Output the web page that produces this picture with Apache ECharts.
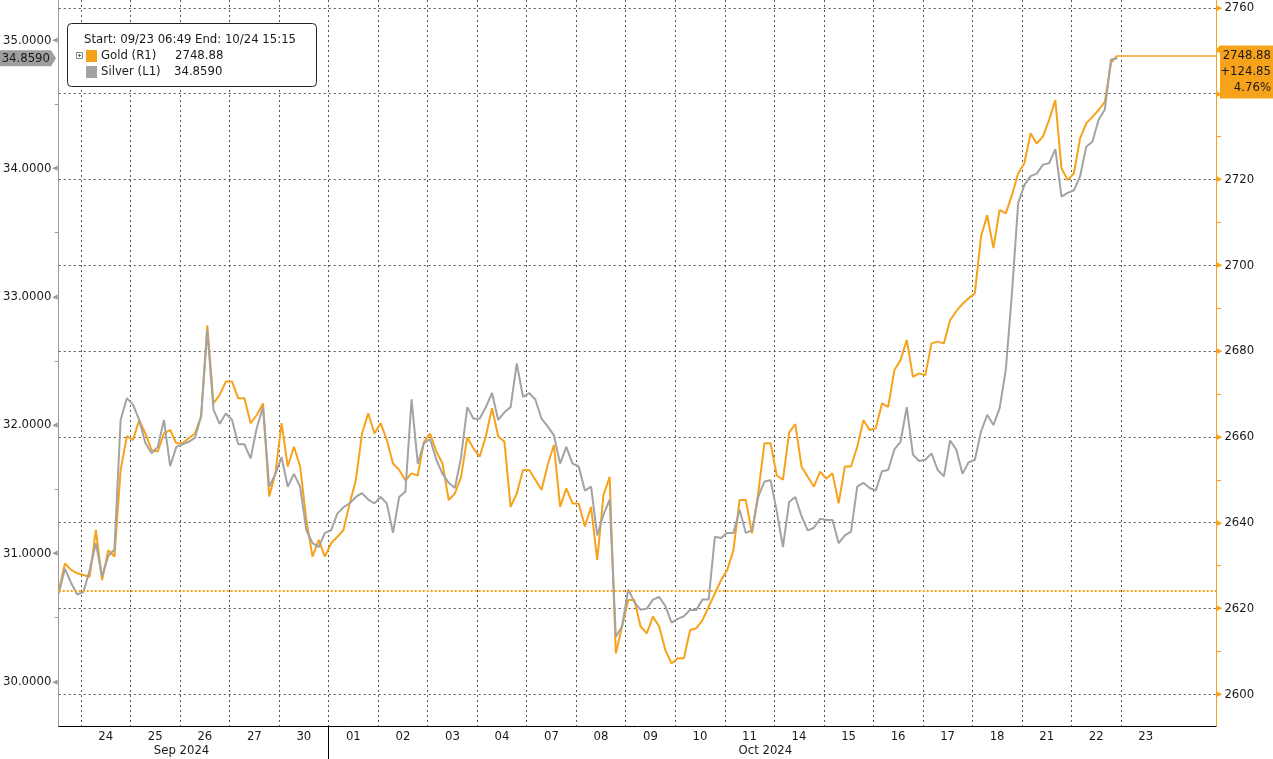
<!DOCTYPE html>
<html><head><meta charset="utf-8">
<script src="https://cdn.jsdelivr.net/npm/echarts@6/dist/echarts.min.js"></script>
<style>html,body{margin:0;padding:0;background:#fff}#c{width:1273px;height:759px}</style>
</head><body><div id="c"></div>
<script>
// ---------- data ----------
const dayLabels = ['24','25','26','27','30','01','02','03','04','07','08','09','10','11','14','15','16','17','18','21','22','23'];
const monthLabels = ['Sep 2024', 'Oct 2024'];
const monthLabelPos = [2.03, 13.82];      // day-index where the month captions sit
const monthBoundary = [5];                // Sep/Oct separator (day index)
const silverTicks = [30, 31, 32, 33, 34, 35];
const silverMinorTicks = [30.5, 31.5, 32.5, 33.5, 34.5];
const goldTicks = [2600, 2620, 2640, 2660, 2680, 2700, 2720, 2740, 2760];
const goldMinorTicks = [2610, 2630, 2650, 2670, 2690, 2710, 2730, 2750];
const startTime = -0.45;   // day index of first sample (09/23 06:49)
const stepDays = 0.125;    // sampling step, in trading days
const startText = 'Start: 09/23 06:49 End: 10/24 15:15';

const gold = [2624.03, 2630.5, 2629.0, 2628.2, 2627.8, 2627.4, 2638.3, 2626.6, 2633.6, 2632.1,
 2652.3, 2660.1, 2659.3, 2663.9, 2660.8, 2656.9, 2656.6, 2660.8, 2661.6, 2658.5,
 2658.5, 2659.7, 2660.8, 2664.7, 2686.0, 2667.8, 2669.8, 2672.9, 2672.9, 2669.0,
 2669.0, 2663.2, 2665.1, 2667.8, 2646.1, 2651.5, 2663.2, 2653.1, 2657.7, 2653.1,
 2640.6, 2632.1, 2636.0, 2632.1, 2635.2, 2636.7, 2638.3, 2644.5, 2649.9, 2660.8,
 2665.5, 2660.8, 2663.2, 2659.3, 2653.8, 2652.3, 2649.9, 2651.5, 2651.0, 2658.8,
 2660.8, 2656.6, 2653.8, 2645.3, 2646.8, 2650.7, 2659.9, 2657.3, 2655.4, 2660.1,
 2666.7, 2660.1, 2658.9, 2643.7, 2646.8, 2652.3, 2652.3, 2650.0, 2647.6, 2653.5,
 2658.1, 2643.7, 2648.0, 2644.5, 2644.5, 2639.1, 2643.7, 2631.3, 2646.4, 2650.7,
 2609.5, 2615.8, 2622.0, 2622.0, 2615.8, 2614.2, 2618.1, 2615.8, 2610.3, 2607.2,
 2608.4, 2608.4, 2615.0, 2615.4, 2617.3, 2620.4, 2623.5, 2626.6, 2629.0, 2633.6,
 2645.3, 2645.3, 2637.5, 2646.8, 2658.5, 2658.5, 2651.0, 2650.0, 2661.0, 2663.0,
 2653.1, 2650.7, 2648.4, 2651.9, 2650.3, 2651.5, 2644.5, 2653.1, 2653.1, 2657.7,
 2663.9, 2661.6, 2662.0, 2667.8, 2667.0, 2675.6, 2677.9, 2682.6, 2674.0, 2674.8,
 2674.4, 2681.8, 2682.2, 2681.8, 2687.2, 2689.3, 2691.0, 2692.3, 2693.5, 2706.7,
 2711.7, 2704.0, 2712.9, 2712.1, 2716.4, 2721.4, 2723.8, 2730.8, 2728.4, 2730.0,
 2733.9, 2738.5, 2722.6, 2719.9, 2721.4, 2729.6, 2733.1, 2734.6, 2736.2, 2738.1,
 2747.2, 2748.88];

const silver = [30.69, 30.88, 30.77, 30.68, 30.70, 30.87, 31.08, 30.82, 30.98, 31.03,
 32.04, 32.21, 32.16, 32.04, 31.86, 31.78, 31.83, 32.04, 31.68, 31.83,
 31.85, 31.87, 31.90, 32.07, 32.74, 32.12, 32.01, 32.09, 32.04, 31.85,
 31.85, 31.74, 31.98, 32.14, 31.52, 31.62, 31.75, 31.52, 31.62, 31.52,
 31.18, 31.08, 31.05, 31.16, 31.18, 31.31, 31.36, 31.39, 31.44, 31.47,
 31.42, 31.39, 31.44, 31.39, 31.16, 31.44, 31.48, 32.20, 31.70, 31.86,
 31.89, 31.73, 31.62, 31.55, 31.51, 31.75, 32.14, 32.05, 32.05, 32.14,
 32.25, 32.04, 32.10, 32.14, 32.48, 32.22, 32.25, 32.20, 32.05, 31.99,
 31.92, 31.70, 31.83, 31.70, 31.68, 31.49, 31.52, 31.14, 31.30, 31.42,
 30.35, 30.43, 30.72, 30.62, 30.56, 30.57, 30.64, 30.66, 30.59, 30.46,
 30.49, 30.51, 30.56, 30.56, 30.64, 30.64, 31.13, 31.12, 31.16, 31.16,
 31.34, 31.16, 31.18, 31.44, 31.56, 31.57, 31.33, 31.05, 31.40, 31.44,
 31.29, 31.18, 31.20, 31.27, 31.26, 31.26, 31.08, 31.14, 31.17, 31.52,
 31.55, 31.51, 31.49, 31.64, 31.65, 31.81, 31.87, 32.14, 31.77, 31.72,
 31.73, 31.78, 31.65, 31.60, 31.88, 31.81, 31.62, 31.71, 31.73, 31.95,
 32.08, 32.00, 32.13, 32.43, 33.03, 33.73, 33.87, 33.94, 33.96, 34.03,
 34.04, 34.15, 33.78, 33.81, 33.83, 33.94, 34.17, 34.21, 34.38, 34.46,
 34.85, 34.859];

// ---------- style ----------
const GOLD = '#f7a21b';
const SILVER = '#a3a3a3';
const GRIDC = '#555555';
const FONT = "'DejaVu Sans Condensed', 'DejaVu Sans', Verdana, sans-serif";
const FS = 13;
const TXT = '#1a1a1a';

const xMin = startTime, xMax = 22.92;
const silverMin = 29.655, silverMax = 35.313;
const goldMin = 2592.61, goldMax = 2761.84;

const times = gold.map((_, i) => startTime + i * stepDays);
const goldData = gold.map((v, i) => [times[i], v]);
const silverData = silver.map((v, i) => [times[i], v]);
const boundaries = dayLabels.map((_, i) => i);
const labelPos = dayLabels.map((_, i) => i + 0.5);

const goldStart = gold[0], goldLast = gold[gold.length - 1];
const silverLast = silver[silver.length - 1];
const lastT = times[times.length - 1];
const change = goldLast - goldStart;
const pct = change / goldStart * 100;

const chart = echarts.init(document.getElementById('c'), null, {renderer: 'canvas'});
chart.setOption({
  animation: false,
  backgroundColor: '#ffffff',
  grid: {left: 57, right: 57, top: 0, bottom: 33, containLabel: false},
  xAxis: [
    {
      type: 'value', min: xMin, max: xMax, position: 'bottom',
      axisLine: {show: true, onZero: false, lineStyle: {color: '#000', width: 1}},
      axisTick: {show: false, customValues: boundaries},
      splitLine: {show: true, lineStyle: {color: GRIDC, type: [2, 3], width: 1}},
      axisLabel: {customValues: labelPos, formatter: v => dayLabels[Math.round(v - 0.5)],
        color: TXT, fontSize: FS, fontFamily: FONT, margin: 4}
    },
    {
      type: 'value', min: xMin, max: xMax, position: 'bottom',
      axisLine: {show: false, onZero: false},
      axisTick: {show: true, customValues: monthBoundary, length: 33, lineStyle: {color: '#000', width: 1}},
      splitLine: {show: false},
      axisLabel: {customValues: monthLabelPos, formatter: v => monthLabels[v < monthBoundary[0] ? 0 : 1],
        color: TXT, fontSize: FS, fontFamily: FONT, margin: 18}
    }
  ],
  yAxis: [
    {
      type: 'value', min: silverMin, max: silverMax, position: 'left',
      axisLine: {show: true, onZero: false, lineStyle: {color: '#9a9a9a', width: 1}},
      axisTick: {show: true, customValues: silverMinorTicks, length: 4, lineStyle: {color: '#9a9a9a'}},
      splitLine: {show: false},
      axisLabel: {customValues: silverTicks, margin: 1,
        formatter: v => v.toFixed(4) + '{t|◀}',
        color: TXT, fontSize: FS, fontFamily: FONT,
        rich: {t: {fontSize: 7, color: '#9a9a9a', fontFamily: 'DejaVu Sans', padding: [0, 0, 0, 1]}}}
    },
    {
      type: 'value', min: goldMin, max: goldMax, position: 'right',
      axisLine: {show: true, onZero: false, lineStyle: {color: GOLD, width: 1}},
      axisTick: {show: false, customValues: goldTicks},
      splitLine: {show: true, lineStyle: {color: GRIDC, type: [2, 3], width: 1}},
      axisLabel: {customValues: goldTicks, margin: 1,
        formatter: v => '{t|▶}' + v,
        color: TXT, fontSize: FS, fontFamily: FONT,
        rich: {t: {fontSize: 7, color: GOLD, fontFamily: 'DejaVu Sans', padding: [0, 2, 0, 0]}}}
    },
    {
      type: 'value', min: goldMin, max: goldMax, position: 'right',
      axisLine: {show: false, onZero: false},
      axisTick: {show: true, customValues: goldMinorTicks, length: 5, lineStyle: {color: GOLD}},
      splitLine: {show: false},
      axisLabel: {show: false}
    }
  ],
  series: [
    {
      name: 'Gold (R1)', type: 'line', xAxisIndex: 0, yAxisIndex: 1, data: goldData,
      color: GOLD, itemStyle: {color: GOLD},
      showSymbol: false, symbol: 'none', lineStyle: {color: GOLD, width: 2}, z: 3,
      markLine: {
        silent: true, symbol: 'none', label: {show: false},
        lineStyle: {color: GOLD, type: 'solid', width: 1.5, opacity: 1},
        data: [
          {yAxis: goldStart, lineStyle: {color: GOLD, type: [2, 2], width: 2}},
          [{coord: [lastT, goldLast], lineStyle: {color: GOLD, type: 'solid', width: 1.5}},
           {coord: [xMax, goldLast], lineStyle: {color: GOLD, type: 'solid', width: 1.5}}]
        ]
      }
    },
    {
      name: 'Silver (L1)', type: 'line', xAxisIndex: 0, yAxisIndex: 0, data: silverData,
      color: SILVER, itemStyle: {color: SILVER},
      showSymbol: false, symbol: 'none', lineStyle: {color: SILVER, width: 2}, z: 4
    }
  ]
});

// ---------- annotations placed through the chart's own scales ----------
const gy = chart.convertToPixel({yAxisIndex: 1}, goldLast);
const sy = chart.convertToPixel({yAxisIndex: 0}, silverLast);
const Z = 100;
const txt = (x, y, s, align) => ({type: 'text', x, y, z: Z + 1,
  style: {text: s, fill: TXT, font: FS + 'px ' + FONT, textAlign: align || 'left', textVerticalAlign: 'middle'}});

chart.setOption({
  graphic: [
    // legend box
    {type: 'rect', z: Z, shape: {x: 67.5, y: 23.5, width: 249, height: 63, r: 4},
      style: {fill: '#fff', stroke: '#222', lineWidth: 1}},
    txt(84, 40, startText),
    {type: 'rect', z: Z + 1, shape: {x: 76.5, y: 52.5, width: 6, height: 6}, style: {fill: '#fff', stroke: '#888', lineWidth: 1}},
    {type: 'line', z: Z + 2, shape: {x1: 78, y1: 55.5, x2: 81, y2: 55.5}, style: {stroke: '#666', lineWidth: 1}},
    {type: 'line', z: Z + 2, shape: {x1: 79.5, y1: 54, x2: 79.5, y2: 57}, style: {stroke: '#666', lineWidth: 1}},
    {type: 'rect', z: Z + 1, shape: {x: 86, y: 50, width: 11, height: 12}, style: {fill: GOLD}},
    txt(101, 56, 'Gold (R1)'),
    txt(175, 56, goldLast.toFixed(2)),
    {type: 'rect', z: Z + 1, shape: {x: 86, y: 66, width: 11, height: 12}, style: {fill: SILVER}},
    txt(101, 72, 'Silver (L1)'),
    txt(174, 72, silverLast.toFixed(4)),
    // gold last-value box on right axis
    {type: 'polygon', z: Z, shape: {points: [[1216, gy - 6], [1220, gy - 10], [1273, gy - 10], [1273, gy + 43], [1220, gy + 43], [1220, gy - 2]]},
      style: {fill: GOLD}},
    txt(1271, gy, goldLast.toFixed(2), 'right'),
    txt(1271, gy + 16, (change >= 0 ? '+' : '') + change.toFixed(2), 'right'),
    txt(1271, gy + 32, pct.toFixed(2) + '%', 'right'),
    // silver last-value box on left axis
    {type: 'polygon', z: Z, shape: {points: [[0, sy - 8], [51, sy - 8], [56, sy], [51, sy + 8], [0, sy + 8]]},
      style: {fill: '#9e9e9e'}},
    txt(50, sy, silverLast.toFixed(4), 'right')
  ]
});
</script>
</body></html>
